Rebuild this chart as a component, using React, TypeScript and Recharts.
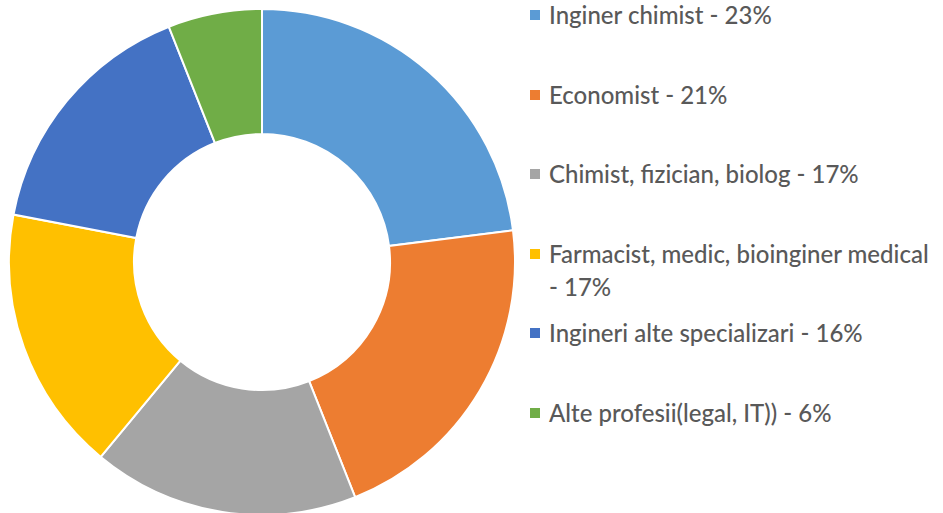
import { Legend, Pie, PieChart, Cell } from "recharts"

const categories = [
  "Inginer chimist",
  "Economist",
  "Chimist, fizician, biolog",
  "Farmacist, medic, bioinginer medical",
  "Ingineri alte specializari",
  "Alte profesii(legal, IT))",
]

const shares = [23, 21, 17, 17, 16, 6]

const colors = ["#5B9BD5", "#ED7D31", "#A5A5A5", "#FFC000", "#4472C4", "#70AD47"]

const data = categories.map((name, i) => ({ name, value: shares[i] }))

const font = "Lato, 'Open Sans', sans-serif"

function LegendList() {
  return (
    <div style={{ position: "relative", fontFamily: font, fontSize: 24, color: "#595959", fontWeight: 500, height: 513 }}>
      {data.map((d, i) => (
        <div
          key={d.name}
          style={{ position: "absolute", left: 0, right: 0, top: i * 79.6 - 2, paddingLeft: 19 }}
        >
          <span
            style={{
              position: "absolute",
              left: 0,
              top: 12,
              width: 10,
              height: 10,
              background: colors[i],
            }}
          />
          <div style={{ lineHeight: "33px" }}>
            {d.name} - {d.value}%
          </div>
        </div>
      ))}
    </div>
  )
}

export default function App() {
  return (
    <div style={{ position: "absolute", left: 0, top: 0, width: 943, height: 513, background: "#fff" }}>
      <PieChart width={943} height={513} margin={{ top: 0, right: 0, bottom: 0, left: 0 }}>
        <Pie
          data={data}
          dataKey="value"
          nameKey="name"
          cx={262}
          cy={262}
          innerRadius={128}
          outerRadius={253}
          startAngle={90}
          endAngle={-270}
          stroke="#fff"
          strokeWidth={2}
          isAnimationActive={false}
        >
          {data.map((d, i) => (
            <Cell key={d.name} fill={colors[i]} />
          ))}
        </Pie>
        <Legend
          layout="vertical"
          align="right"
          verticalAlign="top"
          wrapperStyle={{ left: 530, top: 0, width: 413 }}
          content={() => <LegendList />}
        />
      </PieChart>
    </div>
  )
}
